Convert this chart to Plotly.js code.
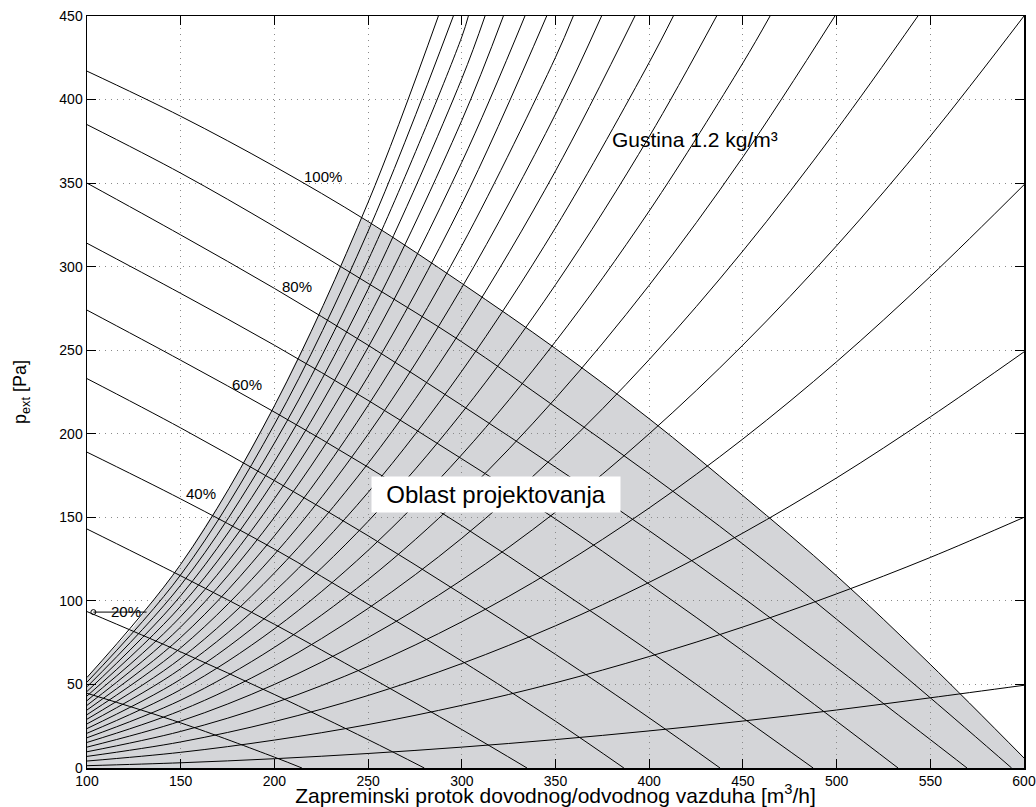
<!DOCTYPE html>
<html><head><meta charset="utf-8">
<script src="https://cdn.plot.ly/plotly-3.0.1.min.js"></script>
<style>html,body{margin:0;padding:0;background:#fff}#chart{width:1036px;height:807px}</style>
</head><body><div id="chart"></div>
<script>
// ---- tick labels ----
const xTicks = [100,150,200,250,300,350,400,450,500,550,600];
const yTicks = [0,50,100,150,200,250,300,350,400,450];

// ---- fan curves (decreasing) ----
const fanLabels = ['100%','90%','80%','70%','60%','50%','40%','30%','20%','10%'];
const fan100X = [100,150,200,250,300,350,400,450,500,550,600];
const fan100Y = [417,390,360,327,290,251,209,163,115,62,6];
const fan90X  = [100,150,200,250,300,350,400,450,500,550,593.4];
const fan90Y  = [385,356,324,290,255,216,176,134,89,42,0];
const fan80X  = [100,150,200,250,300,350,400,450,500,550,569.6];
const fan80Y  = [350,319,287,253,217,180,142,102,60,17,0];
const fan70X  = [100,150,200,250,300,350,400,450,500,532.8];
const fan70Y  = [314,284,253,220,185,149,110,70,28,0];
const fan60X  = [100,150,200,250,300,350,400,450,487.5];
const fan60Y  = [274,244,213,180,145,108,70,30,0];
const fan50X  = [100,150,200,250,300,350,400,437.8];
const fan50Y  = [233,203.5,172,139,104,68,30,0];
const fan40X  = [100,150,200,250,300,350,386.5];
const fan40Y  = [189,161,131,98,64,28,0];
const fan30X  = [100,150,200,250,300,334.8];
const fan30Y  = [143,115,86,55,23,0];
const fan20X  = [100,150,200,250,280];
const fan20Y  = [93.6,69.5,44,17,0];
const fan10X  = [100,150,200,214.7];
const fan10Y  = [44.7,27,6.5,0];

// ---- system curves (increasing), values at flowGrid ----
const flowGrid = [100,150,200,250,300,350,400,450,500,550,600];
const sys50   = [1.39,3.13,5.56,8.68,12.5,17.0,22.2,28.1,34.7,42.0,49.5];
const sys150  = [4.17,9.38,16.7,26.0,37.5,51.0,66.7,84.4,104.2,126.0,150];
const sys250  = [6.94,15.6,27.8,43.4,62.5,85.1,111.1,140.6,173.6,210.1,249];
const sys350  = [9.72,21.9,38.9,60.8,87.5,119.1,155.6,196.9,243.1,294.1,349];
const sys450  = [12.5,28.1,50.0,78.1,112.5,153.1,200.0,253.1,312.5,378.1,450];
const sys550  = [15.3,34.4,61.1,95.5,137.5,187.2,244.4,309.4,381.9];
const sys650  = [18.1,40.6,72.2,112.8,162.5,221.2,288.9,365.6];
const sys750  = [20.8,46.9,83.3,130.2,187.5,255.2,333.3,421.9];
const sys850  = [23.6,53.1,94.4,147.6,212.5,289.2,377.8];
const sys950  = [26.4,59.4,105.6,164.9,237.5,323.3,422.2];
const sys1050 = [29.2,65.6,116.7,182.3,262.5,357.3];
const sys1150 = [31.9,71.9,127.8,199.7,287.5,391.3];
const sys1250 = [34.7,78.1,138.9,217.0,312.5,425.3];
const sys1350 = [37.5,84.4,150.0,234.4,337.5];
const sys1450 = [40.3,90.6,161.1,251.7,362.5];
const sys1550 = [43.1,96.9,172.2,269.1,387.5];
const sys1650 = [45.8,103.1,183.3,286.5,412.5];
const sys1750 = [48.6,109.4,194.4,303.8,437.5];
const sys1850 = [51.4,115.6,205.6,321.2];
const sys1950 = [54.2,121.9,216.7,338.5];
// flow where each curve leaves the top of the plot (p = 450), null if it leaves through the right side
const sysCurves = [sys50,sys150,sys250,sys350,sys450,sys550,sys650,sys750,sys850,sys950,
                   sys1050,sys1150,sys1250,sys1350,sys1450,sys1550,sys1650,sys1750,sys1850,sys1950];
const sysTopX = [null,null,null,null,null,543.4,499.1,464.5,436.0,412.9,
                 392.4,374.6,359.5,345.3,333.7,322.2,312.4,303.5,295.5,287.5];
const topPressure = 450;

// ---- design region (shaded) boundary ----
const regionX = [100,100,125,150,175,200,225,246.6,275,300,325,350,375,400,425,450,475,500,525,550,575,600,600];
const regionY = [0,54.2,84.6,121.9,165.9,216.7,274.2,329,309,290,271,251,230.5,209,186.5,163,139.5,115,89,62,34.5,6,0];

// ---- 20% marker ----
const markX = [103.4,131.8];
const markY = [93.3,93.3];

// ---- labels ----
const labelTexts = ['100%','80%','60%','40%','20%'];
const labelX = [226,212.3,185.4,161,120.6];
const labelY = [354.2,288,229.2,164.4,93.5];

const lineStyle = {color:'#000', width:1, shape:'spline', smoothing:1};
const traces = [];

const fanXs = [fan100X,fan90X,fan80X,fan70X,fan60X,fan50X,fan40X,fan30X,fan20X,fan10X];
const fanYs = [fan100Y,fan90Y,fan80Y,fan70Y,fan60Y,fan50Y,fan40Y,fan30Y,fan20Y,fan10Y];
fanXs.forEach((xs,i)=>{
  traces.push({type:'scatter', mode:'lines', x:xs, y:fanYs[i], line:lineStyle, name:fanLabels[i], hoverinfo:'skip'});
});

sysCurves.forEach((ys,i)=>{
  const xs = flowGrid.slice(0, ys.length);
  const yy = ys.slice();
  if (sysTopX[i] !== null) { xs.push(sysTopX[i]); yy.push(topPressure); }
  traces.push({type:'scatter', mode:'lines', x:xs, y:yy, line:lineStyle, hoverinfo:'skip'});
});

traces.push({type:'scatter', mode:'lines', x:markX, y:markY, line:{color:'#000', width:1}, hoverinfo:'skip'});
traces.push({type:'scatter', mode:'markers', x:[markX[0]], y:[markY[0]],
  marker:{symbol:'circle-open', size:5, color:'#000', line:{width:1, color:'#000'}}, hoverinfo:'skip'});

let path = '';
regionX.forEach((x,i)=>{ path += (i===0?'M':'L') + x + ',' + regionY[i] + ' '; });
path += 'Z';

const annotations = labelTexts.map((t,i)=>({
  x:labelX[i], y:labelY[i], xref:'x', yref:'y', text:t, showarrow:false,
  font:{size:15, color:'#000'}, xanchor:'center', yanchor:'middle'
}));
annotations.push({x:424.6, y:376, xref:'x', yref:'y', text:'Gustina 1.2 kg/m³', showarrow:false,
  font:{size:21, color:'#000'}, xanchor:'center', yanchor:'middle'});
annotations.push({x:318.5, y:163.8, xref:'x', yref:'y', text:'Oblast projektovanja', showarrow:false,
  font:{size:24, color:'#000'}, xanchor:'center', yanchor:'middle', bgcolor:'#fff',
  width:248, height:35, borderpad:0});

const axisCommon = {
  ticks:'inside', ticklen:9, tickwidth:1, tickcolor:'#000', mirror:'ticks',
  showline:true, linecolor:'#000', linewidth:1.5,
  showgrid:true, gridcolor:'#8a8a8a', griddash:'1px,5px', gridwidth:1,
  zeroline:false, tickfont:{size:14, color:'#000'}, automargin:false
};

const layout = {
  width:1036, height:807,
  margin:{l:87, r:12, t:16, b:39},
  paper_bgcolor:'#fff', plot_bgcolor:'#fff', showlegend:false,
  font:{family:'"Liberation Sans", Arial, Helvetica, sans-serif', color:'#000'},
  xaxis:Object.assign({}, axisCommon, {range:[100,600], tickvals:xTicks, ticktext:xTicks.map(String),
    title:{text:'Zapreminski protok dovodnog/odvodnog vazduha [m<sup>3</sup>/h]', font:{size:21, color:'#000'}, standoff:1}}),
  yaxis:Object.assign({}, axisCommon, {range:[0,450], tickvals:yTicks, ticktext:yTicks.map(String),
    title:{text:'p<sub>ext</sub> [Pa]', font:{size:18, color:'#000'}, standoff:28}}),
  shapes:[{type:'path', path:path, xref:'x', yref:'y', fillcolor:'#d4d5d8', line:{width:0}, layer:'below'}],
  annotations:annotations
};

Plotly.newPlot('chart', traces, layout, {displayModeBar:false, staticPlot:true});
</script></body></html>
